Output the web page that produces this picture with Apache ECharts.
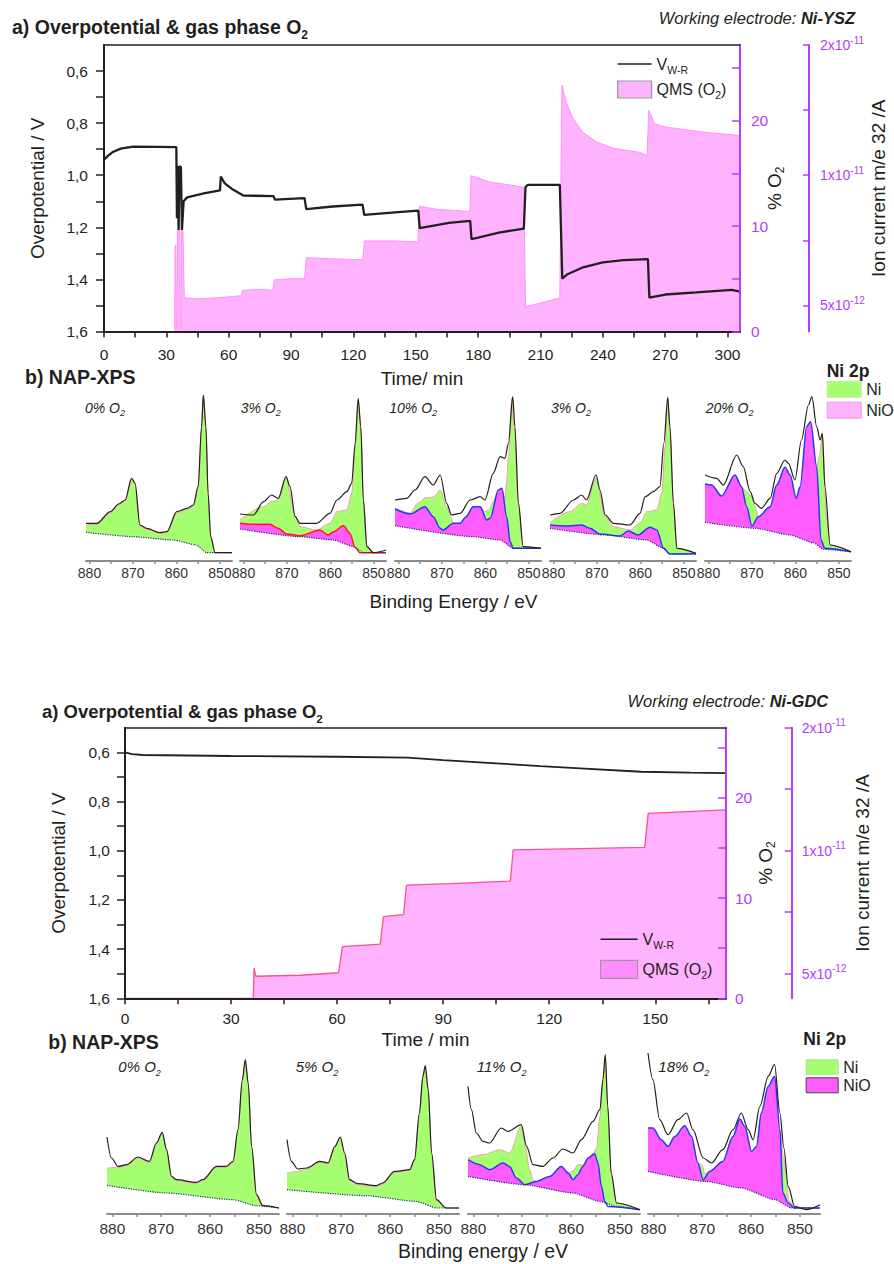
<!DOCTYPE html>
<html>
<head>
<meta charset="utf-8">
<script src="https://cdn.jsdelivr.net/npm/echarts@6/dist/echarts.min.js"></script>
<style>
  html, body { margin: 0; padding: 0; background: #fff; }
  #chart { width: 894px; height: 1264px; }
</style>
</head>
<body>
<div id="chart"></div>
<script>
const FONT = '"Liberation Sans", Arial, sans-serif';
const INK = '#231f20';
const PURPLE = '#b43cff';
const PINK = '#ffb2ff';
const GREEN = '#a6ff70';
const MAGENTA = '#ff5cff';
const BLUE = '#2438ff';
const SALMON = '#f2a0a0';

// ---------- a) Ni-YSZ : time (min) -> overpotential (V) and QMS O2 (%)
const yszVolt = [[0,0.94],[2,0.925],[4,0.912],[8,0.898],[14,0.89],[25,0.891],[34.8,0.892],[35.1,1.165],[35.4,0.965],[35.9,1.21],[36.3,0.965],[37.0,0.97],[37.5,1.21],[38.3,1.1],[40,1.085],[48,1.07],[55.8,1.058],[56.2,1.005],[58,1.03],[62,1.055],[67,1.078],[81.5,1.08],[82.3,1.094],[96.5,1.088],[97.3,1.13],[110,1.12],[124.4,1.113],[125.2,1.152],[140,1.143],[151.2,1.136],[151.9,1.203],[166,1.183],[176.2,1.175],[176.8,1.245],[180,1.24],[190,1.22],[202,1.205],[202.8,1.045],[204,1.037],[219.3,1.037],[220.5,1.397],[223,1.38],[230,1.355],[240,1.335],[250,1.326],[261.7,1.322],[262.4,1.47],[270,1.458],[285,1.45],[302,1.44],[306,1.447]];
const yszQms = [[0,0],[34,0],[34.2,8.2],[34.6,8.2],[34.8,0.3],[35.2,0.3],[35.4,9.6],[36.5,9.6],[36.7,0.3],[37.1,0.3],[37.3,9.6],[38,9.6],[38.6,3.2],[45,3.1],[55,3.2],[66,3.4],[66.6,3.9],[75,4.0],[81.3,3.9],[82,4.9],[90,5.0],[96.5,5.0],[97.3,7.0],[110,6.9],[124.5,6.8],[125.3,8.6],[140,8.6],[151,8.5],[151.8,11.9],[160,11.6],[176,11.4],[176.6,14.8],[185.6,14.2],[202,13.7],[202.8,2.35],[210,2.7],[219.3,3.2],[220.3,23.4],[222.5,21.7],[225.7,20.2],[230.5,18.9],[237,18.0],[245,17.4],[258,17.0],[261.3,16.7],[262.1,21.0],[265,19.7],[270.6,19.4],[290,18.9],[306,18.6]];

// ---------- a) Ni-GDC
const gdcVolt = [[0,0.600],[2,0.607],[5,0.611],[30,0.615],[60,0.618],[80,0.622],[90,0.632],[105,0.645],[117.5,0.656],[130,0.666],[146,0.679],[160,0.683],[170,0.685]];
const gdcQms = [[0,0],[36.3,0],[36.5,3.0],[37,2.2],[49.5,2.3],[60.4,2.55],[61.5,5.15],[72.2,5.4],[73.1,8.15],[78.8,8.35],[79.6,11.3],[92,11.45],[109,11.7],[109.8,14.8],[147,15.05],[148,18.45],[170,18.8]];

// ---------- tick values / labels
const voltLabels = [0.6, 0.8, 1.0, 1.2, 1.4, 1.6];
const voltTicks = [0.6, 0.7, 0.8, 0.9, 1.0, 1.1, 1.2, 1.3, 1.4, 1.5, 1.6];
const pctLabels = [0, 10, 20];
const pctTicks = [0, 5, 10, 15, 20, 25];
const ionLabelValues = [0, 1, 2];            // log2(I / 5e-12 A)
const ionTicks = [0, 0.5, 1, 1.5, 2];
const ionLabels = ['5x10{sup|-12}', '1x10{sup|-11}', '2x10{sup|-11}'];
const yszTimeLabels = [0, 30, 60, 90, 120, 150, 180, 210, 240, 270, 300];
const yszTimeTicks = [0, 15, 30, 45, 60, 75, 90, 105, 120, 135, 150, 165, 180, 195, 210, 225, 240, 255, 270, 285, 300];
const gdcTimeLabels = [0, 30, 60, 90, 120, 150];
const gdcTimeTicks = [0, 15, 30, 45, 60, 75, 90, 105, 120, 135, 150, 165];
const beLabels = [880, 870, 860, 850];
const beTicks = [880, 875, 870, 865, 860, 855, 850];

// ---------- b) NAP-XPS Ni 2p labels
const yszXpsLabels = ['0% O{sub|2}', '3% O{sub|2}', '10% O{sub|2}', '3% O{sub|2}', '20% O{sub|2}'];
const gdcXpsLabels = ['0% O{sub|2}', '5% O{sub|2}', '11% O{sub|2}', '18% O{sub|2}'];

// spectra: [binding energy / eV, intensity / a.u.]
const ysz0Fit = [[880.8,37.7],[878.3,37.7],[875.2,49.3],[873.3,57],[871.8,61],[870.3,82.7],[869.5,77.7],[868.4,36],[866.8,32.7],[863.8,28.3],[862.2,29.3],[859.9,49.3],[857.6,52.7],[856.1,56],[855,74.3],[854.2,134.3],[853.8,166],[853.2,134],[852.7,67.7],[852.1,24.3],[851.1,8.3],[847.2,8.3]];
const ysz0Ni = [[880.8,36],[878.3,36.5],[875.2,48],[873.3,56],[871.8,60],[870.3,81.5],[869.5,76.5],[868.4,35],[866.8,31.5],[863.8,27.5],[862.2,28.5],[859.9,48],[857.6,51.5],[856.1,55],[855,73],[854.2,133],[853.8,165],[853.2,133],[852.7,67],[852.1,24],[851.1,8.3],[847.2,8.3]];
const ysz0Bg = [[880.8,28.7],[869.9,24.3],[860.7,21],[855.4,16],[853,8.3],[847.2,8.3]];

const ysz3aFit = [[880.8,47],[877.7,46],[875.4,59.3],[873.5,66],[872,62.7],[870.2,84.3],[869.3,74.3],[868.1,44.3],[867,37.7],[863.2,37.7],[860.1,47.7],[858.5,61],[856.2,69.3],[855.1,77.7],[854.3,117.7],[853.6,162.7],[853,134.3],[852.4,61],[851.6,14.3],[850.1,8.3],[847.2,11]];
const ysz3aNi = [[880.8,41],[875.4,54.3],[873.5,59.3],[872,61],[870.2,82.7],[868.1,44.3],[867,34.3],[863.2,31],[860.1,37.7],[858.5,49.3],[856.2,51],[855.1,67.7],[854.3,114],[853.6,161],[853,132.7],[852.4,61],[851.6,14.3],[850.1,8.3],[847.2,8.3]];
const ysz3aNiO = [[880.8,37.7],[877.7,36.7],[873.9,36.7],[872,32.7],[870.1,27],[867,25.3],[862.4,31],[860.5,26],[859.3,29.3],[857,35.3],[855.5,27.7],[854.3,13.5],[853.2,8.3],[847.2,8.3]];
const ysz3aBg = [[880.8,32],[867,24.3],[859.3,21],[854.6,14.3],[852.4,8.3],[847.2,8.3]];

const ysz10Fit = [[880.8,61],[878.1,62.7],[876.2,71],[873.9,84.3],[872,76],[870.4,86],[868.9,57.7],[867.8,46],[865.8,47.7],[863.5,61],[861.2,64.3],[860.1,61],[858.2,87.7],[856.6,104.3],[855.5,102.7],[854.7,117.7],[853.7,164.3],[853.2,134.3],[852.4,57.7],[851.3,14.3],[847.2,12.7]];
const ysz10Ni = [[880.8,53],[877.3,48],[875.5,58],[873.9,63],[872,64],[870.4,71],[868.9,54.3],[867.8,42.7],[867.4,37.7],[865.8,37.7],[864.5,44],[862.8,54.3],[861.2,54.3],[860.1,49.3],[859.2,51],[858.2,60],[857,71],[856.2,72.7],[855.5,62],[855.1,80],[854.7,104.3],[853.9,162.7],[853.4,134.3],[852.4,57.7],[851.3,14.3],[847.2,12.7]];
const ysz10NiO = [[880.8,52],[877.3,47],[873.9,54.3],[872,44.3],[870.4,32.7],[869.7,31],[867.4,37.7],[865.8,37.7],[864.5,44],[862.8,54.3],[861.2,54.3],[859.7,41],[858.9,42.7],[857,71],[856.2,72.7],[855.1,44.3],[854.3,19.3],[853.6,12.7],[847.2,12.7]];
const ysz10Bg = [[880.8,35.3],[862.8,24.3],[856.6,21],[853.6,12.7],[847.2,12.7]];

const ysz3bFit = [[880.8,46],[878.5,47.7],[875.4,61],[873.5,66],[872.4,61],[870.2,86],[869.3,71],[868.1,46],[866.2,37.7],[862.4,36],[860.1,47.7],[858.9,64.3],[857,69.3],[855.5,74.3],[854.6,117.7],[853.7,163.7],[853.2,134.3],[852.4,57.7],[851.6,12.7],[847.2,7.7]];
const ysz3bNi = [[880.8,38.3],[876.2,49.3],[873.5,57.7],[872.4,56],[870.2,82.7],[868.1,44.3],[866.2,34.3],[862.4,31],[860.1,37.7],[858.5,49.3],[856.2,51],[855.1,67.7],[854.3,114.3],[853.7,162.7],[853.2,132.7],[852.4,57.7],[851.6,12.7],[847.2,7.7]];
const ysz3bNiO = [[880.8,36],[877,35],[873.5,36],[871.6,32.7],[869.3,27],[864.7,25],[862.8,30],[860.5,26],[857.8,33.7],[856.2,31],[854.7,13],[853.2,7],[847.2,7]];
const ysz3bBg = [[880.8,32.7],[868,26],[858.5,21],[854.7,12.7],[853.2,7],[847.2,7.7]];

const ysz20Fit = [[880.8,86],[878.1,82.7],[876.6,76],[873.5,106],[872,94.3],[870.4,69.3],[869.3,57.7],[867.8,52.7],[865.8,62.7],[864.3,87.7],[862.4,101],[861.6,97.7],[860.1,81],[858.6,121],[857,156],[856.2,164.3],[855.1,134.3],[854.3,121],[853.8,127.7],[853.2,74.3],[852,16],[847.2,9.3]];
const ysz20Ni = [[880.8,77],[879.3,76],[877,65],[873.9,86],[872.4,74.3],[871.2,69.3],[870,64.3],[869.3,54.3],[868.5,44.3],[865.8,54.3],[864.3,76],[862.4,93.7],[861.2,86],[859.8,62.7],[858.9,74.3],[857.4,134.3],[856.5,139.3],[855.1,94.3],[854.5,104],[853.8,126],[852.8,41],[852,16],[847.2,9.3]];
const ysz20NiO = [[880.8,77],[879.3,76],[877,65],[873.9,86],[872.4,74.3],[871.2,54.3],[870,35],[868.5,44.3],[865.8,54.3],[864.3,76],[862.4,93.7],[861.2,86],[859.8,62.7],[858.9,74.3],[857.4,134.3],[856.5,139.3],[855.1,94.3],[854.1,21],[853.2,12.7],[847.2,9.3]];
const ysz20Bg = [[880.8,38.7],[869.3,32.7],[861.2,26],[855.9,18.3],[853.5,11.7],[847.2,9.3]];

const gdc0Fit = [[881.1,77],[880.2,56],[878.8,47.6],[877.1,49.3],[874.8,57],[872.4,52.6],[871,71],[869.8,81.6],[868.9,64.3],[867.9,37.6],[866.9,34.3],[862.8,31.6],[861.5,34.3],[858.7,47.6],[856.7,47.6],[855.3,52.6],[854.3,84.3],[853.4,134.3],[852.8,154.3],[852.2,131],[851.5,67.6],[850.5,19.3],[849.2,8.3],[845.9,6]];
const gdc0Ni = [[881.1,46],[878.8,46.6],[877.1,48.3],[874.8,56],[872.4,51.6],[871,70],[869.8,80.6],[868.9,63.3],[867.9,36.6],[866.9,33.3],[862.8,30.6],[861.5,33.3],[858.7,46.6],[856.7,46.6],[855.3,51.6],[854.3,83.3],[853.4,133.3],[852.8,153.3],[852.2,130],[851.5,66.6],[850.5,18.3],[849.2,8.3],[845.9,6]];
const gdc0Bg = [[881.1,28.6],[868.9,21],[855.3,14.3],[850.5,8.3],[845.9,6]];

const gdc5Fit = [[881.1,74.3],[880.2,52.6],[878.9,45],[877.1,46],[874.4,52.6],[872.7,51],[871.3,67.6],[870.2,77],[869.3,61],[868.3,34.3],[866.6,30.3],[862.8,28.3],[861.5,31],[859.1,42.6],[856,44.3],[855,54.3],[854,101],[853.3,137.6],[852.8,148.3],[852.2,124.3],[851.5,61],[850.5,14.3],[848.5,6],[845.9,6]];
const gdc5Ni = [[881.1,41],[878.9,42.6],[877.1,45],[874.4,51.6],[872.7,50],[871.3,66.6],[870.2,76],[869.3,60],[868.3,33.3],[866.6,29.3],[862.8,27.3],[861.5,30],[859.1,41.6],[856,43.3],[855,53.3],[854,100],[853.3,136.6],[852.8,147.3],[852.2,123.3],[851.5,60],[850.5,13.3],[848.5,6],[845.9,6]];
const gdc5Bg = [[881.1,24.3],[864.9,18.3],[854.6,12.6],[850.5,6],[845.9,6]];

const gdc11Fit = [[881.1,127.6],[880.4,104.3],[879.4,81],[878,72.6],[876.7,71],[874.3,86],[872.9,82.6],[870.2,89.3],[869.1,67.6],[867.8,49.3],[865.8,47.6],[863.7,56],[861.7,65],[859.6,61],[857.9,74.3],[855.5,92.6],[854.1,104.3],[853.5,134.3],[853,159.3],[852.5,107.6],[851.8,41],[850.7,11],[845.9,4.3]];
const gdc11Ni = [[881.1,56],[878,59.3],[874.6,64.3],[872.6,61],[870.2,87.6],[869.5,71],[868.5,44.3],[867.8,34],[867.1,32.6],[864.4,37.6],[862,47.6],[860.6,41],[859.6,43],[858.6,49.3],[857.6,49.3],[856.5,56],[855.5,60.3],[854.8,66],[854.1,97.6],[853.5,132],[853,157],[852.5,106],[851.8,39.3],[850.7,11],[845.9,4.3]];
const gdc11NiO = [[881.1,54.3],[878.7,49.3],[876.7,44.3],[873.9,51],[872.6,47.6],[871.2,36],[869.5,29.3],[867.1,32.6],[864.4,37.6],[862,47.6],[860.6,41],[859.6,34.3],[858.6,39.3],[857.6,47.6],[856.5,56],[855.2,60.3],[854.5,51],[853.8,27.6],[853.1,12.6],[852.5,7.6],[845.9,4.3]];
const gdc11Bg = [[881.1,37.6],[869.6,29.3],[859.6,21],[854.1,12.6],[850.7,7.6],[845.9,4.3]];

const gdc18Fit = [[881.1,161],[880.1,134.3],[878.7,94.3],[877,79.3],[875,94.3],[873.2,101],[871.9,84.3],[869.8,56],[868.1,51],[865.8,64.3],[863.7,84.3],[862,101],[860.6,84.3],[859.6,74.3],[858.2,107.6],[856.5,137.6],[855.2,149.3],[854.1,101],[853.3,66],[852.4,27.6],[851.1,7.6],[848.7,4.3],[845.9,9.3]];
const gdc18Ni = [[881.1,86],[880.1,86],[878.4,74.3],[877,67.6],[875.6,77.6],[873.6,88.3],[872.2,77.6],[870.9,51],[870.1,49.3],[869.4,40],[868.5,42.6],[865.8,52.6],[863.7,77.6],[862.3,95],[861.3,87.6],[859.9,62.6],[858.9,67.6],[857.9,101],[856.5,127.6],[855.2,137.6],[854.1,84.3],[853.4,57.6],[852.8,37.6],[852.3,14.3],[851.1,6],[845.9,6]];
const gdc18NiO = [[881.1,86],[880.1,86],[878.4,74.3],[877,67.6],[875.6,77.6],[873.6,88.3],[872.2,77.6],[870.9,51],[869.8,34.3],[868.5,42.6],[865.8,52.6],[863.7,77.6],[862.3,95],[861.3,87.6],[859.9,62.6],[858.9,67.6],[857.9,101],[856.5,127.6],[855.2,137.6],[854.1,84.3],[853.5,21],[852.4,11],[851.1,6],[845.9,6]];
const gdc18Bg = [[881.1,42.6],[869.2,32.6],[862,26],[855.1,14.3],[851.7,6],[845.9,6]];

// ---------------------------------------------------------------
const grid = [], xAxis = [], yAxis = [], series = [], legend = [], graphic = [];

function addGrid(g) {
  return grid.push(Object.assign({ outerBoundsMode: 'none', containLabel: false }, g)) - 1;
}
function tick(color, len, inside, values) {
  return { show: true, inside: inside, length: len, customValues: values, lineStyle: { color: color, width: 1.5 } };
}
const subRich = (size, color) => ({ fontSize: size, fontFamily: FONT, color: color, verticalAlign: 'bottom', lineHeight: size });

// overpotential + QMS chart
function buildMain(p) {
  const gi = addGrid({ left: p.left, top: p.top, width: p.width, height: p.height });
  const base = { gridIndex: gi, type: 'value', z: 4, splitLine: { show: false }, nameMoveOverlap: false };
  const nameStyle = { fontSize: 19, color: INK, fontFamily: FONT };

  const xi = xAxis.push(Object.assign({}, base, {
    position: 'bottom', min: 0, max: p.tMax,
    axisLine: { show: true, onZero: false, lineStyle: { color: INK, width: 2 } },
    axisTick: tick(INK, 6, false, p.timeTicks),
    axisLabel: { customValues: p.timeLabels, margin: p.timeMargin, fontSize: 15.5, color: INK, fontFamily: FONT },
    name: p.timeName, nameLocation: 'middle', nameGap: p.timeGap, nameTextStyle: nameStyle
  })) - 1;
  xAxis.push(Object.assign({}, base, {
    position: 'top', min: 0, max: p.tMax,
    axisLine: { show: true, onZero: false, lineStyle: { color: INK, width: 1.5 } },
    axisTick: { show: false }, axisLabel: { show: false }
  }));

  const yvi = yAxis.push(Object.assign({}, base, {
    position: 'left', inverse: true, min: 0.5, max: 1.6,
    axisLine: { show: true, onZero: false, lineStyle: { color: INK, width: 2 } },
    axisTick: tick(INK, p.vTick, false, voltTicks),
    axisLabel: { customValues: voltLabels, margin: p.vMargin, fontSize: 15.5, color: INK, fontFamily: FONT,
      formatter: v => v.toFixed(1).replace('.', ',') },
    name: 'Overpotential / V', nameLocation: 'middle', nameGap: p.vGap, nameRotate: 90, nameTextStyle: nameStyle
  })) - 1;

  const ypi = yAxis.push(Object.assign({}, base, {
    position: 'right', min: 0, max: p.pctMax,
    axisLine: { show: true, onZero: false, lineStyle: { color: PURPLE, width: 2 } },
    axisTick: tick(PURPLE, p.pTick, true, pctTicks),
    axisLabel: { customValues: pctLabels, margin: p.pMargin, fontSize: 15.5, color: PURPLE, fontFamily: FONT },
    name: '% O{sub|2}', nameLocation: 'middle', nameGap: p.pGap, nameRotate: 90,
    nameTextStyle: { fontSize: 19, color: INK, fontFamily: FONT, lineHeight: 24, rich: { sub: subRich(12, INK) } }
  })) - 1;

  yAxis.push(Object.assign({}, base, {
    position: 'right', offset: p.ionOffset, min: -0.2, max: 2,
    axisLine: { show: true, onZero: false, lineStyle: { color: PURPLE, width: 2 } },
    axisTick: tick(PURPLE, p.iTick, true, ionTicks),
    axisLabel: { customValues: ionLabelValues, margin: p.iMargin, fontSize: 14, color: PURPLE, fontFamily: FONT, lineHeight: 20,
      formatter: v => ionLabels[ionLabelValues.indexOf(Math.round(v))],
      rich: { sup: { fontSize: 10, fontFamily: FONT, color: PURPLE, verticalAlign: 'top', lineHeight: 10 } } },
    name: 'Ion current m/e 32 /A', nameLocation: 'middle', nameGap: p.iGap, nameRotate: 90, nameTextStyle: nameStyle
  }));

  series.push({
    type: 'line', name: 'QMS (O2)', xAxisIndex: xi, yAxisIndex: ypi, data: p.qms, symbol: 'none', silent: true,
    lineStyle: { color: p.qmsEdge, width: p.qmsEdgeWidth }, itemStyle: { color: PINK },
    areaStyle: { color: PINK, opacity: 1 }, z: 2
  });
  series.push({
    type: 'line', name: 'V_W-R', xAxisIndex: xi, yAxisIndex: yvi, data: p.volt, symbol: 'none', silent: true,
    lineStyle: { color: INK, width: p.vWidth }, itemStyle: { color: INK }, z: 3
  });

  legend.push({
    left: p.legLeft, top: p.legTop, orient: 'vertical', padding: 0, selectedMode: false,
    itemWidth: p.legW, itemHeight: p.legH, itemGap: p.legGap,
    data: [
      { name: 'V_W-R', icon: 'path://M0,0H24V1H0Z', itemStyle: { color: INK, borderWidth: 0 } },
      { name: 'QMS (O2)', icon: 'rect', itemStyle: { color: p.legBox, borderColor: '#9a9a9a', borderWidth: 1.2 } }
    ],
    formatter: n => (n === 'V_W-R' ? 'V{sub|W-R}' : 'QMS (O{sub|2})'),
    textStyle: { fontSize: 16, color: INK, fontFamily: FONT, lineHeight: 22, rich: { sub: subRich(10.5, INK) } }
  });
}

// one Ni 2p spectrum panel
function buildXps(p, s) {
  const gi = addGrid({ left: p.left, top: p.top, width: p.width, height: p.height });
  const xi = xAxis.push({
    gridIndex: gi, type: 'value', inverse: true, min: p.eMin, max: p.eMax, z: 5, nameMoveOverlap: false,
    axisLine: { show: true, onZero: false, lineStyle: { color: '#8c8c8c', width: 2 } },
    axisTick: tick('#8c8c8c', 3, false, beTicks),
    axisLabel: { customValues: beLabels, margin: p.margin, fontSize: p.fontSize, color: '#333', fontFamily: FONT },
    splitLine: { show: false }
  }) - 1;
  const yi = yAxis.push({ gridIndex: gi, type: 'value', min: 0, max: p.yMax, show: false }) - 1;
  const common = { type: 'line', xAxisIndex: xi, yAxisIndex: yi, symbol: 'none', silent: true, smoothMonotone: 'x' };
  series.push(Object.assign({}, common, {
    name: 'Ni', data: s.ni, z: 2, smooth: 0.3, lineStyle: { color: SALMON, width: 1 },
    itemStyle: { color: GREEN }, areaStyle: { color: GREEN, opacity: 1 }
  }));
  if (s.nio) {
    series.push(Object.assign({}, common, {
      name: 'NiO', data: s.nio, z: 2, smooth: 0.3, lineStyle: { color: s.edge || BLUE, width: 1.5 },
      itemStyle: { color: MAGENTA }, areaStyle: { color: MAGENTA, opacity: 1 }
    }));
  }
  series.push(Object.assign({}, common, {
    name: 'background', data: s.bg, z: 2, smooth: 0.2, lineStyle: { color: '#2b2b7a', width: 1.2, type: 'dotted' },
    itemStyle: { color: '#2b2b7a' }, areaStyle: { color: '#ffffff', opacity: 1 }
  }));
  series.push(Object.assign({}, common, {
    name: 'fit', data: s.fit, z: 3, smooth: 0.3, lineStyle: { color: INK, width: 1.2 }, itemStyle: { color: INK }
  }));
}

function label(x, y, text, size, style, align) {
  const f = (st, sz) => st + ' ' + sz + 'px ' + FONT;
  graphic.push({
    type: 'text', x: x, y: y, silent: true, z: 20,
    style: {
      text: text, fill: INK, font: f(style, size), align: align || 'left', verticalAlign: 'middle',
      lineHeight: Math.round(size * 1.4),
      rich: {
        sub: { font: f(style, Math.round(size * 0.62)), fill: INK, verticalAlign: 'bottom', lineHeight: Math.round(size * 0.62) },
        b: { font: f('italic bold', size), fill: INK }
      }
    }
  });
}

// ---------- top figure: Ni-YSZ
buildMain({
  left: 104, top: 45, width: 636, height: 286.5, tMax: 306, pctMax: 27.2, ionOffset: 69,
  timeTicks: yszTimeTicks, timeLabels: yszTimeLabels, timeName: 'Time/ min', timeGap: 37, timeMargin: 15,
  vTick: 8, vMargin: 16, vGap: 57, pTick: 8, pMargin: 11, pGap: 22, iTick: 6, iMargin: 11, iGap: 60,
  volt: yszVolt, qms: yszQms, qmsEdge: '#ff94f0', qmsEdgeWidth: 1, vWidth: 2.3,
  legLeft: 617, legTop: 53, legW: 34, legH: 17, legGap: 3.5, legBox: PINK
});
const yszSpectra = [
  { fit: ysz0Fit, ni: ysz0Ni, bg: ysz0Bg },
  { fit: ysz3aFit, ni: ysz3aNi, nio: ysz3aNiO, bg: ysz3aBg, edge: '#ff1a1a' },
  { fit: ysz10Fit, ni: ysz10Ni, nio: ysz10NiO, bg: ysz10Bg },
  { fit: ysz3bFit, ni: ysz3bNi, nio: ysz3bNiO, bg: ysz3bBg },
  { fit: ysz20Fit, ni: ysz20Ni, nio: ysz20NiO, bg: ysz20Bg }
];
const yszLeft = [86, 240, 395, 550, 705];
const yszLabelX = [85, 240.7, 389.3, 551, 705.7];
yszSpectra.forEach((s, i) => {
  buildXps({ left: yszLeft[i], top: 386, width: 146, height: 175, yMax: 175, eMin: 847.2, eMax: 880.8, margin: 5, fontSize: 14 }, s);
  label(yszLabelX[i], 407.5, yszXpsLabels[i], 14, 'italic');
});
legend.push({
  left: 826.7, top: 380.7, orient: 'vertical', padding: 0, selectedMode: false,
  itemWidth: 34, itemHeight: 16, itemGap: 4,
  data: [
    { name: 'Ni', icon: 'rect', itemStyle: { color: GREEN, borderColor: '#c4e6a6', borderWidth: 1 } },
    { name: 'NiO', icon: 'rect', itemStyle: { color: PINK, borderColor: '#e89ae8', borderWidth: 1 } }
  ],
  textStyle: { fontSize: 16, color: INK, fontFamily: FONT }
});
label(12, 27, 'a) Overpotential & gas phase O{sub|2}', 19.5, 'bold');
label(855, 18.3, 'Working electrode: {b|Ni-YSZ}', 16.5, 'italic', 'right');
label(25, 376.5, 'b) NAP-XPS', 19.5, 'bold');
label(453.5, 601, 'Binding Energy / eV', 19, '', 'center');
label(826.7, 370.8, 'Ni 2p', 17.5, 'bold');

// ---------- bottom figure: Ni-GDC
buildMain({
  left: 125, top: 727.7, width: 601, height: 270.6, tMax: 170, pctMax: 27, ionOffset: 65.7,
  timeTicks: gdcTimeTicks, timeLabels: gdcTimeLabels, timeName: 'Time / min', timeGap: 32, timeMargin: 12,
  vTick: 8, vMargin: 15, vGap: 57, pTick: 8, pMargin: 9, pGap: 27, iTick: 7, iMargin: 10, iGap: 61,
  volt: gdcVolt, qms: gdcQms, qmsEdge: '#ff4f8c', qmsEdgeWidth: 1.3, vWidth: 1.8,
  legLeft: 600, legTop: 928.3, legW: 37, legH: 18, legGap: 8, legBox: '#ff8cff'
});
const gdcSpectra = [
  { fit: gdc0Fit, ni: gdc0Ni, bg: gdc0Bg },
  { fit: gdc5Fit, ni: gdc5Ni, bg: gdc5Bg },
  { fit: gdc11Fit, ni: gdc11Ni, nio: gdc11NiO, bg: gdc11Bg },
  { fit: gdc18Fit, ni: gdc18Ni, nio: gdc18NiO, bg: gdc18Bg }
];
const gdcLeft = [107, 287, 468, 648];
const gdcLabelX = [118.3, 295.7, 476.7, 658.3];
gdcSpectra.forEach((s, i) => {
  buildXps({ left: gdcLeft[i], top: 1044, width: 172, height: 170, yMax: 170, eMin: 845.9, eMax: 881.1, margin: 6, fontSize: 15.5 }, s);
  label(gdcLabelX[i], 1066.5, gdcXpsLabels[i], 15, 'italic');
});
legend.push({
  left: 805.7, top: 1059.3, orient: 'vertical', padding: 0, selectedMode: false,
  itemWidth: 32, itemHeight: 15, itemGap: 2,
  data: [
    { name: 'Ni', icon: 'rect', itemStyle: { color: GREEN, borderColor: '#b5d99a', borderWidth: 1 } },
    { name: 'NiO', icon: 'rect', itemStyle: { color: MAGENTA, borderColor: '#444', borderWidth: 1 } }
  ],
  textStyle: { fontSize: 16, color: INK, fontFamily: FONT }
});
label(42, 711.7, 'a) Overpotential & gas phase O{sub|2}', 18.5, 'bold');
label(828.3, 700.8, 'Working electrode: {b|Ni-GDC}', 16.5, 'italic', 'right');
label(48.3, 1041.7, 'b) NAP-XPS', 19.5, 'bold');
label(483, 1251, 'Binding energy / eV', 19.5, '', 'center');
label(803.3, 1039, 'Ni 2p', 17.5, 'bold');

const chart = echarts.init(document.getElementById('chart'), null, { renderer: 'svg', width: 894, height: 1264 });
chart.setOption({
  animation: false,
  backgroundColor: '#ffffff',
  textStyle: { fontFamily: FONT },
  grid: grid,
  xAxis: xAxis,
  yAxis: yAxis,
  series: series,
  legend: legend,
  graphic: graphic
});
</script>
</body>
</html>
